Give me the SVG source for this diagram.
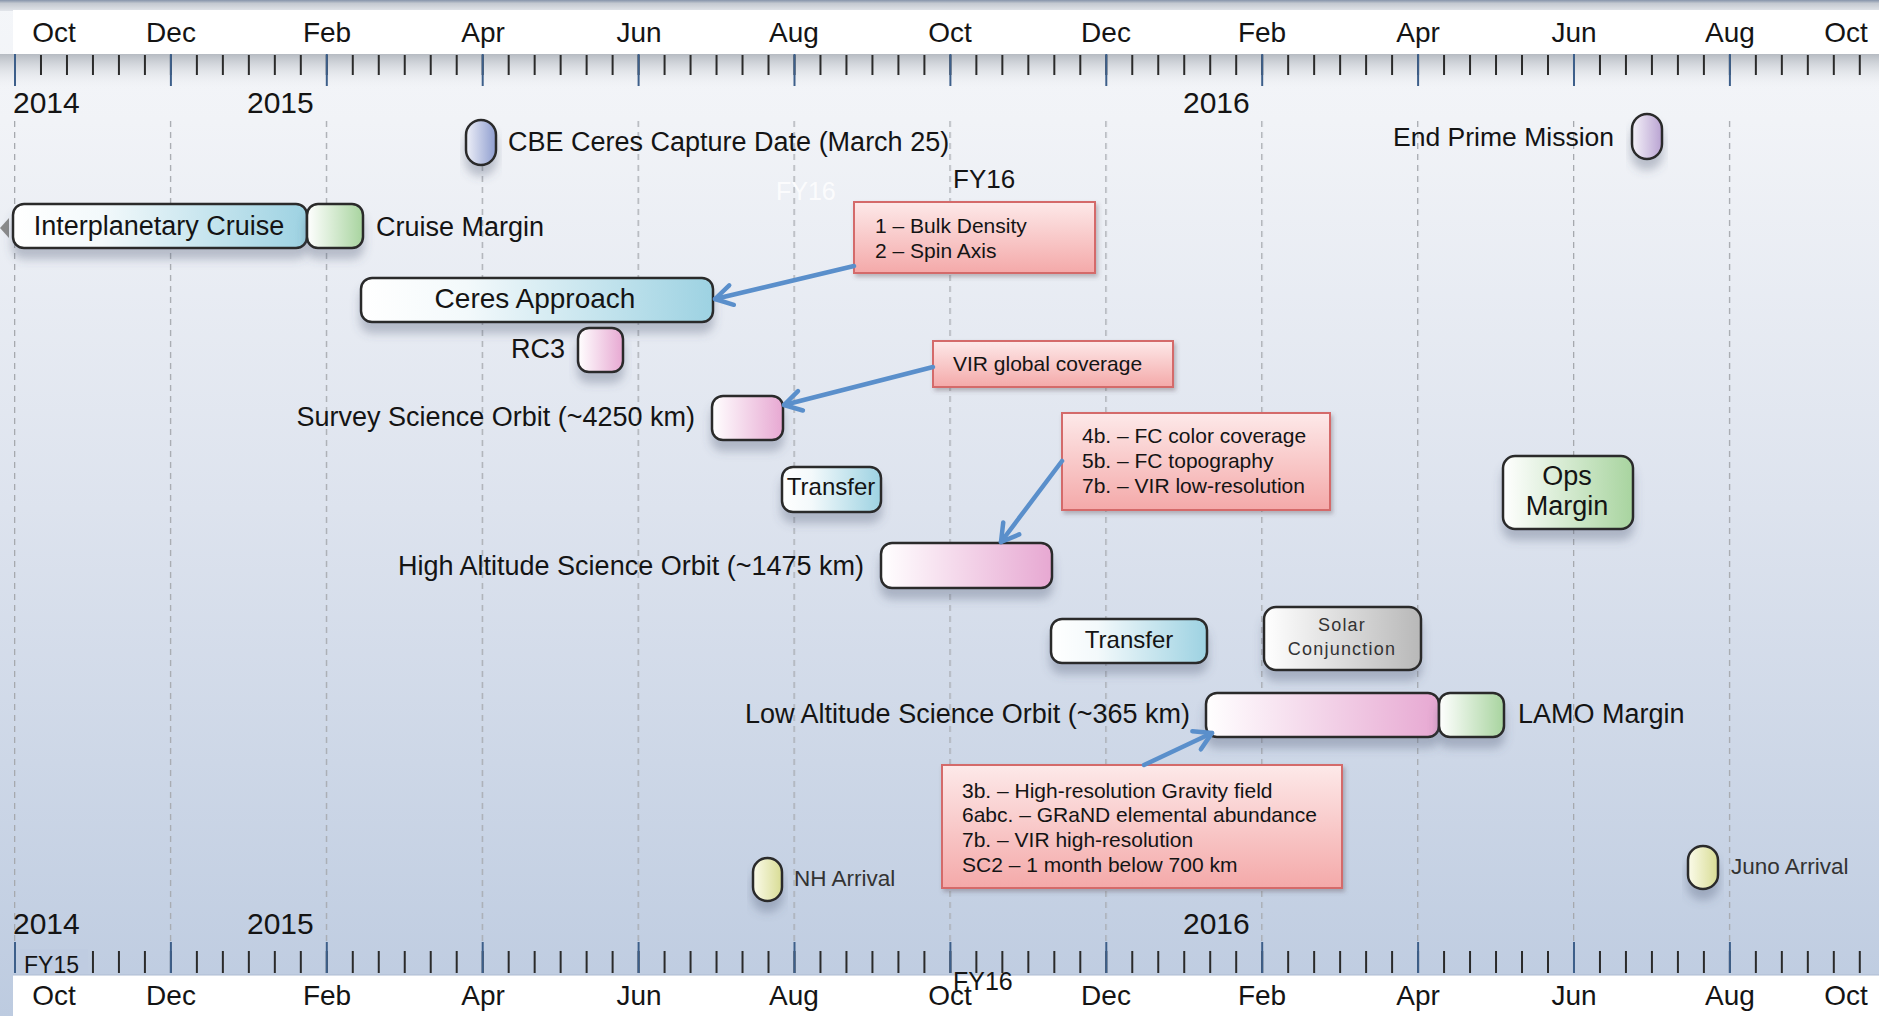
<svg xmlns="http://www.w3.org/2000/svg" width="1879" height="1016" viewBox="0 0 1879 1016">
<defs>
<style>
text{font-family:"Liberation Sans",Arial,sans-serif;fill:#141414}
.mo{font-size:28px;text-anchor:middle}
.yr{font-size:30px}
.lb{font-size:27px}
.ct{text-anchor:middle}
.en{text-anchor:end}
.nt{font-size:21px}
.sm{font-size:22.5px;fill:#333}
.nd{stroke:#2b2b2b;stroke-width:2.5;filter:url(#sh)}
.note{fill:url(#gNote);stroke:#d46a6a;stroke-width:2;filter:url(#sh2)}
.conn{stroke:#5a8fcb;stroke-width:4.5;fill:none;marker-end:url(#ah);stroke-linecap:round}
</style>
<linearGradient id="bg" x1="0" y1="0" x2="0" y2="1">
<stop offset="0" stop-color="#f4f6f9"/>
<stop offset="0.12" stop-color="#f1f3f7"/>
<stop offset="0.5" stop-color="#dde3ee"/>
<stop offset="1" stop-color="#bdcbe0"/>
</linearGradient>
<linearGradient id="tkbg" x1="0" y1="0" x2="0" y2="1">
<stop offset="0" stop-color="#b6bbc2"/>
<stop offset="1" stop-color="#f1f3f7" stop-opacity="0"/>
</linearGradient>
<linearGradient id="topb" x1="0" y1="0" x2="0" y2="1">
<stop offset="0" stop-color="#8593aa"/>
<stop offset="0.3" stop-color="#c3c8d0"/>
<stop offset="1" stop-color="#e2e5ea"/>
</linearGradient>
<linearGradient id="gBlue" x1="0" y1="0" x2="1" y2="0">
<stop offset="0" stop-color="#ffffff"/>
<stop offset="0.3" stop-color="#f3f9fb"/>
<stop offset="1" stop-color="#9dd2e2"/>
</linearGradient>
<linearGradient id="gGreen" x1="0" y1="0" x2="1" y2="0">
<stop offset="0" stop-color="#ffffff"/>
<stop offset="1" stop-color="#a8d49f"/>
</linearGradient>
<linearGradient id="gPink" x1="0" y1="0" x2="1" y2="0">
<stop offset="0" stop-color="#ffffff"/>
<stop offset="1" stop-color="#e7a8d2"/>
</linearGradient>
<linearGradient id="gGrey" x1="0" y1="0" x2="1" y2="0">
<stop offset="0" stop-color="#ffffff"/>
<stop offset="1" stop-color="#b8b8b8"/>
</linearGradient>
<linearGradient id="gYel" x1="0" y1="0" x2="1" y2="0">
<stop offset="0" stop-color="#fbfbea"/>
<stop offset="1" stop-color="#d8dc94"/>
</linearGradient>
<linearGradient id="gCbe" x1="0" y1="0" x2="1" y2="0">
<stop offset="0" stop-color="#eef0f8"/>
<stop offset="1" stop-color="#8e9dcf"/>
</linearGradient>
<linearGradient id="gEnd" x1="0" y1="0" x2="1" y2="0">
<stop offset="0" stop-color="#f5f2f9"/>
<stop offset="1" stop-color="#b9a3d2"/>
</linearGradient>
<linearGradient id="gNote" x1="0" y1="0" x2="0" y2="1">
<stop offset="0" stop-color="#fde9e9"/>
<stop offset="1" stop-color="#f4a9a9"/>
</linearGradient>
<filter id="sh" x="-20%" y="-40%" width="140%" height="220%">
<feDropShadow dx="0" dy="10" stdDeviation="5" flood-color="#4a5670" flood-opacity="0.33"/>
</filter>
<filter id="sh2" x="-10%" y="-10%" width="120%" height="130%">
<feDropShadow dx="2" dy="3" stdDeviation="2" flood-color="#5a4a50" flood-opacity="0.35"/>
</filter>
<pattern id="tkMinor" x="14" y="0" width="25.983" height="10" patternUnits="userSpaceOnUse">
<rect x="0" y="0" width="2" height="10" fill="#2a2a2a"/>
</pattern>
<pattern id="tkMajor" x="14" y="0" width="155.9" height="10" patternUnits="userSpaceOnUse">
<rect x="0" y="0" width="2" height="10" fill="#3d5f8a"/>
</pattern>
<pattern id="grid" x="14" y="0" width="155.9" height="11" patternUnits="userSpaceOnUse">
<rect x="0" y="0" width="1.3" height="6" fill="#a6a9ae"/>
</pattern>
<marker id="ah" viewBox="-22 -13 27 26" refX="0" refY="0" markerWidth="27" markerHeight="26" markerUnits="userSpaceOnUse" orient="auto">
<path d="M-17,-10 L0,0 L-17,10" fill="none" stroke="#5a8fcb" stroke-width="4.5" stroke-linecap="round" stroke-linejoin="round"/>
</marker>
</defs>

<!-- background -->
<rect x="0" y="0" width="1879" height="1016" fill="url(#bg)"/>
<rect x="0" y="0" width="1879" height="11" fill="url(#topb)"/>
<rect x="13" y="10" width="1866" height="44" fill="#ffffff"/>
<rect x="0" y="54" width="1879" height="36" fill="url(#tkbg)"/>
<rect x="13" y="975" width="1866" height="41" fill="#ffffff"/>
<line x1="13" y1="975" x2="1879" y2="975" stroke="#aebcd2" stroke-width="1"/>

<!-- grid -->
<rect x="0" y="118" width="1879" height="826" fill="url(#grid)"/>

<!-- top axis -->
<g id="axis-top">
<rect x="0" y="55" width="1879" height="20" fill="url(#tkMinor)"/>
<rect x="0" y="54" width="1879" height="32" fill="url(#tkMajor)"/>
<text class="mo" x="54" y="42">Oct</text>
<text class="mo" x="171" y="42">Dec</text>
<text class="mo" x="327" y="42">Feb</text>
<text class="mo" x="483" y="42">Apr</text>
<text class="mo" x="639" y="42">Jun</text>
<text class="mo" x="794" y="42">Aug</text>
<text class="mo" x="950" y="42">Oct</text>
<text class="mo" x="1106" y="42">Dec</text>
<text class="mo" x="1262" y="42">Feb</text>
<text class="mo" x="1418" y="42">Apr</text>
<text class="mo" x="1574" y="42">Jun</text>
<text class="mo" x="1730" y="42">Aug</text>
<text class="mo" x="1846" y="42">Oct</text>
<text class="yr" x="13" y="113">2014</text>
<text class="yr" x="247" y="113">2015</text>
<text class="yr" x="1183" y="113">2016</text>
</g>

<!-- bottom axis -->
<g id="axis-bottom">
<rect x="0" y="951" width="1879" height="22" fill="url(#tkMinor)"/>
<rect x="0" y="942" width="1879" height="31" fill="url(#tkMajor)"/>
<rect x="20" y="949" width="68" height="25" fill="#bfcce1"/>
<text x="24" y="973" style="font-size:23px">FY15</text>
<text class="yr" x="13" y="934">2014</text>
<text class="yr" x="247" y="934">2015</text>
<text class="yr" x="1183" y="934">2016</text>
<text class="mo" x="54" y="1005">Oct</text>
<text class="mo" x="171" y="1005">Dec</text>
<text class="mo" x="327" y="1005">Feb</text>
<text class="mo" x="483" y="1005">Apr</text>
<text class="mo" x="639" y="1005">Jun</text>
<text class="mo" x="794" y="1005">Aug</text>
<text class="mo" x="950" y="1005">Oct</text>
<text class="mo" x="1106" y="1005">Dec</text>
<text class="mo" x="1262" y="1005">Feb</text>
<text class="mo" x="1418" y="1005">Apr</text>
<text class="mo" x="1574" y="1005">Jun</text>
<text class="mo" x="1730" y="1005">Aug</text>
<text class="mo" x="1846" y="1005">Oct</text>
<text x="953" y="990" style="font-size:25px">FY16</text>
</g>

<text x="953" y="188" style="font-size:26px">FY16</text>
<text x="776" y="200" style="font-size:25px;fill:#ffffff;fill-opacity:0.8">FY16</text>

<!-- nodes -->
<g id="cbe-capture">
<rect class="nd" x="466" y="120" width="30" height="45" rx="15" ry="15" fill="url(#gCbe)"/>
<text class="lb" x="508" y="151">CBE Ceres Capture Date (March 25)</text>
</g>
<g id="end-prime-mission">
<rect class="nd" x="1632" y="114" width="30" height="45" rx="15" ry="15" fill="url(#gEnd)"/>
<text class="lb en" x="1614" y="146" style="font-size:26.5px">End Prime Mission</text>
</g>
<g id="interplanetary-cruise">
<polygon points="0,228 9,218 9,238" fill="#8a8a8a"/>
<rect class="nd" x="13" y="204" width="294" height="44" rx="11" fill="url(#gBlue)"/>
<text class="lb ct" x="159" y="235">Interplanetary Cruise</text>
</g>
<g id="cruise-margin">
<rect class="nd" x="307" y="204" width="56" height="44" rx="11" fill="url(#gGreen)"/>
<text class="lb" x="376" y="236">Cruise Margin</text>
</g>
<g id="ceres-approach">
<rect class="nd" x="361" y="278" width="352" height="44" rx="11" fill="url(#gBlue)"/>
<text class="lb ct" x="535" y="308" style="font-size:28px">Ceres Approach</text>
</g>
<g id="rc3">
<rect class="nd" x="578" y="328" width="45" height="44" rx="11" fill="url(#gPink)"/>
<text class="lb" x="511" y="358">RC3</text>
</g>
<g id="survey-orbit">
<rect class="nd" x="712" y="396" width="71" height="44" rx="11" fill="url(#gPink)"/>
<text class="lb en" x="695" y="426">Survey Science Orbit (~4250 km)</text>
</g>
<g id="transfer-1">
<rect class="nd" x="782" y="467" width="99" height="45" rx="11" fill="url(#gBlue)"/>
<text class="ct" x="831" y="495" style="font-size:24px">Transfer</text>
</g>
<g id="hamo">
<rect class="nd" x="881" y="543" width="171" height="45" rx="11" fill="url(#gPink)"/>
<text class="lb en" x="864" y="575">High Altitude Science Orbit (~1475 km)</text>
</g>
<g id="ops-margin">
<rect class="nd" x="1503" y="456" width="130" height="73" rx="12" fill="url(#gGreen)"/>
<text class="lb ct" x="1567" y="485">Ops</text>
<text class="lb ct" x="1567" y="515">Margin</text>
</g>
<g id="transfer-2">
<rect class="nd" x="1051" y="619" width="156" height="44" rx="11" fill="url(#gBlue)"/>
<text class="ct" x="1129" y="648" style="font-size:24px">Transfer</text>
</g>
<g id="solar-conjunction">
<rect class="nd" x="1264" y="607" width="157" height="63" rx="12" fill="url(#gGrey)"/>
<text class="ct" x="1342" y="631" style="font-size:18px;letter-spacing:1.2px;fill:#333">Solar</text>
<text class="ct" x="1342" y="655" style="font-size:18px;letter-spacing:1.2px;fill:#333">Conjunction</text>
</g>
<g id="lamo">
<rect class="nd" x="1206" y="693" width="233" height="44" rx="11" fill="url(#gPink)"/>
<text class="lb en" x="1190" y="723">Low Altitude Science Orbit (~365 km)</text>
</g>
<g id="lamo-margin">
<rect class="nd" x="1439" y="693" width="65" height="44" rx="11" fill="url(#gGreen)"/>
<text class="lb" x="1518" y="723">LAMO Margin</text>
</g>
<g id="nh-arrival">
<rect class="nd" x="753" y="858" width="29" height="43" rx="14.5" ry="14" fill="url(#gYel)"/>
<text class="sm" x="794" y="886">NH Arrival</text>
</g>
<g id="juno-arrival">
<rect class="nd" x="1688" y="846" width="30" height="43" rx="15" ry="14" fill="url(#gYel)"/>
<text class="sm" x="1731" y="874">Juno Arrival</text>
</g>

<!-- notes -->
<g id="note-approach">
<rect class="note" x="854" y="202" width="241" height="71"/>
<text class="nt" x="875" y="233">1 – Bulk Density</text>
<text class="nt" x="875" y="258">2 – Spin Axis</text>
</g>
<g id="note-survey">
<rect class="note" x="933" y="341" width="240" height="46"/>
<text class="nt" x="953" y="371">VIR global coverage</text>
</g>
<g id="note-hamo">
<rect class="note" x="1062" y="413" width="268" height="97"/>
<text class="nt" x="1082" y="443">4b. – FC color coverage</text>
<text class="nt" x="1082" y="468">5b. – FC topography</text>
<text class="nt" x="1082" y="493">7b. – VIR low-resolution</text>
</g>
<g id="note-lamo">
<rect class="note" x="942" y="765" width="400" height="123"/>
<text class="nt" x="962" y="798">3b. – High-resolution Gravity field</text>
<text class="nt" x="962" y="822">6abc. – GRaND elemental abundance</text>
<text class="nt" x="962" y="847">7b. – VIR high-resolution</text>
<text class="nt" x="962" y="872">SC2 – 1 month below 700 km</text>
</g>

<!-- connectors -->
<g id="connectors">
<line class="conn" x1="854" y1="266" x2="715" y2="299"/>
<line class="conn" x1="933" y1="367" x2="784" y2="405"/>
<line class="conn" x1="1062" y1="461" x2="1001" y2="542"/>
<line class="conn" x1="1144" y1="765" x2="1212" y2="733"/>
</g>
</svg>
